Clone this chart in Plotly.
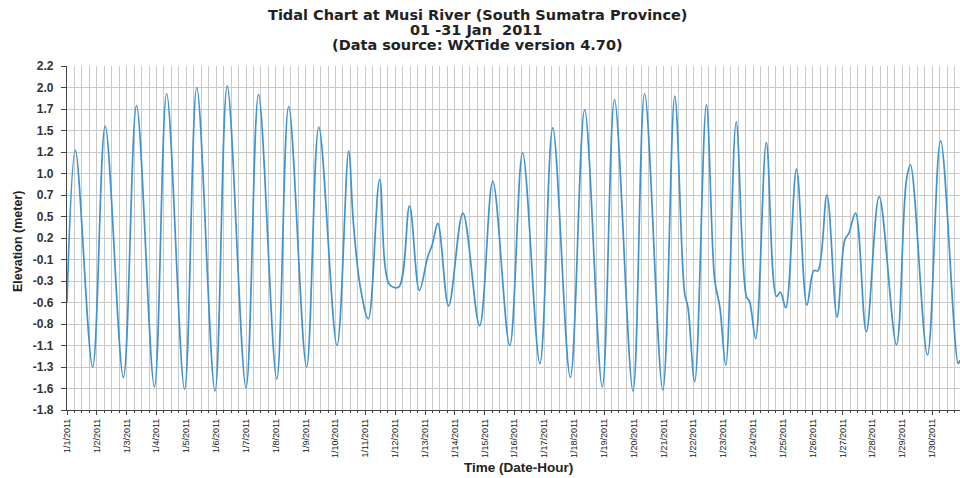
import pandas as pd
import plotly.graph_objects as go

# ---- data (day offset from 2011-01-01 00:00, elevation in m) ----
day_offset = [
    0.00, 0.28, 0.86, 1.28, 1.89, 2.33, 2.93, 3.34, 3.94, 4.35, 4.96, 5.37, 6.00,
    6.42, 7.03, 7.43, 8.03, 8.44, 9.05, 9.44, 9.60, 9.83, 10.10, 10.48, 10.81,
    11.12, 11.48, 11.81, 12.09, 12.24, 12.43, 12.79, 13.27, 13.83, 14.27, 14.84,
    15.27, 15.85, 16.28, 16.87, 17.35, 17.94, 18.35, 18.97, 19.36, 19.97, 20.37,
    20.70, 20.81, 21.04, 21.43, 21.71, 21.88, 22.08, 22.43, 22.77, 22.88, 23.08,
    23.44, 23.78, 23.91, 24.09, 24.45, 24.80, 25.03, 25.17, 25.47, 25.81, 26.07,
    26.20, 26.43, 26.79, 27.22, 27.80, 28.13, 28.27, 28.84, 29.28, 29.87, 29.93,
]
elevation_m = [
    -0.55, 1.22, -1.30, 1.50, -1.42, 1.74, -1.53, 1.88, -1.56, 1.95, -1.58, 1.97, -1.54,
    1.87, -1.44, 1.73, -1.30, 1.49, -1.05, 1.21, 0.37, -0.37, -0.74, 0.88, -0.34,
    -0.37, 0.57, -0.41, -0.02, 0.12, 0.37, -0.59, 0.49, -0.82, 0.86, -1.05,
    1.19, -1.26, 1.48, -1.42, 1.69, -1.53, 1.81, -1.58, 1.88, -1.57, 1.85,
    -0.44, -0.60, -1.47, 1.75, -0.29, -0.60, -1.28, 1.55, -0.48, -0.54, -0.97,
    1.31, -0.48, -0.43, -0.61, 1.00, -0.58, -0.18, -0.18, 0.70, -0.72, 0.18,
    0.25, 0.49, -0.89, 0.68, -1.04, 0.86, 1.05, -1.16, 1.33, -1.26, -1.22,
]

y_tick_values = [2.2, 1.95, 1.7, 1.45, 1.2, 0.95, 0.7, 0.45, 0.2, -0.05,
                 -0.3, -0.55, -0.8, -1.05, -1.3, -1.55, -1.8]
y_tick_labels = ["2.2", "2.0", "1.7", "1.5", "1.2", "1.0", "0.7", "0.5", "0.2", "-0.1",
                 "-0.3", "-0.6", "-0.8", "-1.1", "-1.3", "-1.6", "-1.8"]

x_tick_dates = pd.date_range("2011-01-01", "2011-01-31", freq="D")
x_tick_labels = [f"1/{d}/2011" for d in range(1, 32)]

times = pd.Timestamp("2011-01-01") + pd.to_timedelta(pd.Series(day_offset) * 24, unit="h")

fig = go.Figure()
fig.add_trace(go.Scatter(
    x=times, y=elevation_m, mode="lines",
    line=dict(color="#3f93d3", width=1.7, shape="spline", smoothing=1.0),
    showlegend=False, hoverinfo="skip",
))

FONT = "Liberation Sans, Arial, sans-serif"
TFONT = "DejaVu Sans, Liberation Sans, sans-serif"
grid_col = "#c9c9c9"
fig.update_layout(
    width=960, height=478,
    margin=dict(l=67, r=0, t=66, b=68),
    paper_bgcolor="white", plot_bgcolor="white",
    font=dict(family=FONT, color="#222"),
    xaxis=dict(
        range=[pd.Timestamp("2011-01-01 00:00"), pd.Timestamp("2011-01-30 22:20")],
        tickmode="array", tickvals=x_tick_dates, ticktext=x_tick_labels,
        tickangle=-90, tickfont=dict(size=9, family=FONT, color="#222"),
        showgrid=True, gridcolor=grid_col, gridwidth=1,
        showline=True, linecolor="#444", linewidth=1.3,
        ticks="outside", ticklen=4, tickcolor="#444",
        minor=dict(dtick=6 * 3600 * 1000, showgrid=True, gridcolor=grid_col,
                   gridwidth=1, ticks="outside", ticklen=2, tickcolor="#444"),
        zeroline=False,
    ),
    yaxis=dict(
        range=[-1.8, 2.2],
        tickmode="array", tickvals=y_tick_values,
        ticktext=[f"<b>{t}</b>" for t in y_tick_labels],
        tickfont=dict(size=12, family=FONT, color="#333"),
        showgrid=True, gridcolor=grid_col, gridwidth=1,
        showline=True, linecolor="#444", linewidth=1.3,
        ticks="outside", ticklen=5, tickcolor="#444",
        ticklabelstandoff=5,
        zeroline=False,
    ),
    annotations=[
        dict(text="<b>Tidal Chart at Musi River (South Sumatra Province)</b>",
             x=477, y=478 - 15, showarrow=False,
             font=dict(size=14.5, family=TFONT, color="#222")),
        dict(text="<b>01 -31 Jan  2011</b>",
             x=476, y=478 - 30, showarrow=False,
             font=dict(size=14.5, family=TFONT, color="#222")),
        dict(text="<b>(Data source: WXTide version 4.70)</b>",
             x=477, y=478 - 45, showarrow=False,
             font=dict(size=14.5, family=TFONT, color="#222")),
        dict(text="<b>Time (Date-Hour)</b>", x=518, y=478 - 467, showarrow=False,
             font=dict(size=13.5, family=FONT, color="#222")),
        dict(text="<b>Elevation (meter)</b>", x=18, y=478 - 242, showarrow=False,
             textangle=-90, font=dict(size=12.5, family=FONT, color="#222")),
    ],
)

# convert pixel annotation positions into paper coordinates
pw, ph = 960 - 67 - 0, 478 - 66 - 68
for a in fig.layout.annotations:
    a.xref = "paper"; a.yref = "paper"
    a.x = (a.x - 67) / pw
    a.y = (a.y - 68) / ph
    a.xanchor = "center"; a.yanchor = "middle"

fig.write_html("out.html", config={"displayModeBar": False},
               post_script="document.body.style.margin='0';document.body.style.padding='0';")
